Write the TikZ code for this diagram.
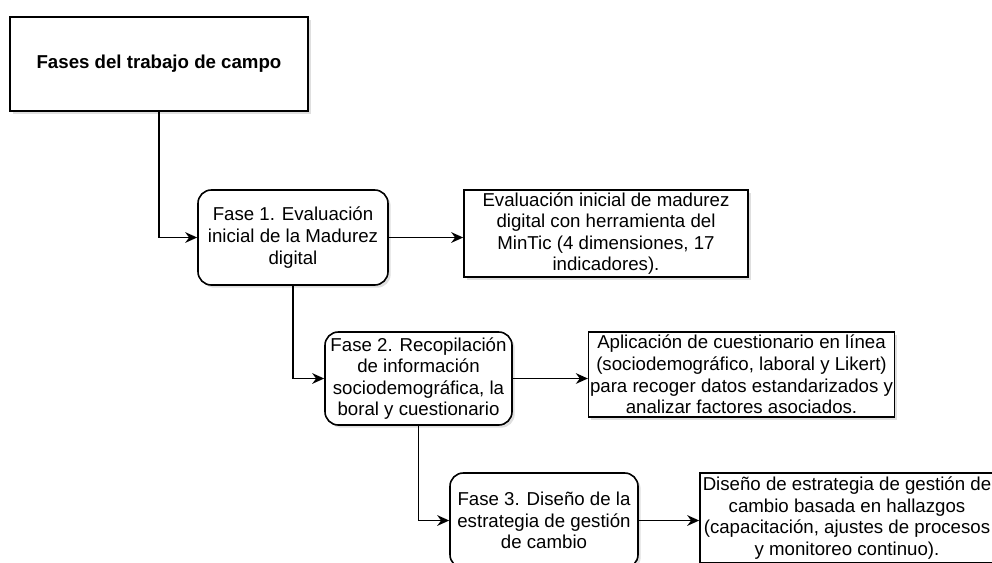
\documentclass[tikz,border=0pt]{standalone}
\usepackage{fontspec}
\setmainfont{Liberation Sans}
\usetikzlibrary{positioning,shadows,arrows.meta}

\begin{document}
\begin{tikzpicture}[x=0.75pt,y=-0.75pt,
    box/.style={draw,line width=1.2pt,fill=white,align=center,inner sep=1pt,
      font=\fontsize{14}{16.2}\selectfont,
      drop shadow={shadow xshift=2pt,shadow yshift=-2pt,opacity=0.25}},
    fase/.style={box,rounded corners=10pt},
    link/.style={line width=1.2pt,-{Stealth[length=9pt,width=8pt]}}]
    \useasboundingbox (0,0) rectangle (992,562);
    \clip (0,0) rectangle (992,562);

    % title
    \node[box,minimum width=223.5pt,minimum height=70.5pt,font=\fontsize{14}{16.2}\selectfont\bfseries] (titulo) at (159,64) {Fases del trabajo de campo};

    % phases
    \node[fase,minimum width=142.5pt,minimum height=71.25pt] (fase1) at (293,237.5)
      {Fase 1. Evaluación\\inicial de la Madurez\\digital};
    \node[fase,minimum width=140.25pt,minimum height=69.75pt] (fase2) at (418.5,378.5)
      {Fase 2. Recopilación\\de información\\sociodemográfica, la\\boral y cuestionario};
    \node[fase,minimum width=141pt,minimum height=71.25pt] (fase3) at (544,520.5)
      {Fase 3. Diseño de la\\estrategia de gestión\\de cambio};

    % descriptions
    \node[box,minimum width=213pt,minimum height=65.25pt] (desc1) at (606,233.5)
      {Evaluación inicial de madurez\\digital con herramienta del\\MinTic (4 dimensiones, 17\\indicadores).};
    \node[box,minimum width=227.25pt,minimum height=63.75pt] (desc2) at (741.5,374.5)
      {Aplicación de cuestionario en línea\\(sociodemográfico, laboral y Likert)\\para recoger datos estandarizados y\\analizar factores asociados.};
    \node[box,minimum width=220.5pt,minimum height=67.5pt] (desc3) at (847,518)
      {Diseño de estrategia de gestión de\\cambio basada en hallazgos\\(capacitación, ajustes de procesos\\y monitoreo continuo).};

    % connectors
    \draw[link] (titulo.south) |- (fase1.west);
    \draw[link] (fase1.south) |- (fase2.west);
    \draw[link] (fase2.south) |- (fase3.west);
    \draw[link] (fase1.east) -- (fase1.east -| desc1.west);
    \draw[link] (fase2.east) -- (fase2.east -| desc2.west);
    \draw[link] (fase3.east) -- (fase3.east -| desc3.west);
\end{tikzpicture}
\end{document}
